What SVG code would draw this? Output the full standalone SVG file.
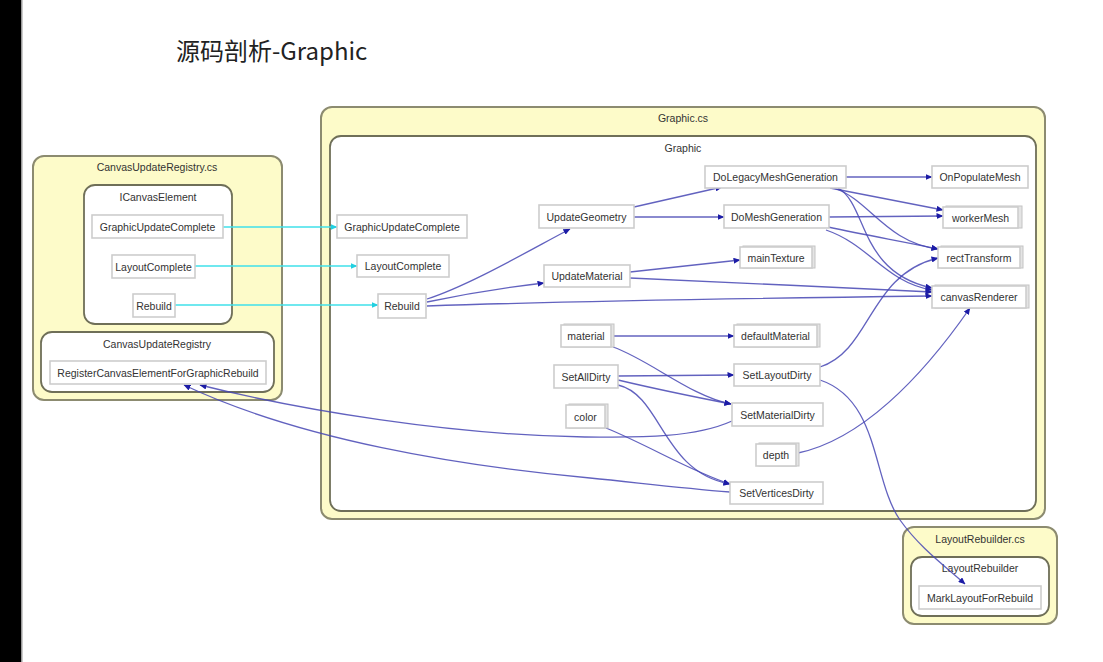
<svg xmlns="http://www.w3.org/2000/svg" width="1103" height="662" viewBox="0 0 1103 662">
<style>
.t{font-family:"Liberation Sans",Arial,sans-serif;font-size:10.5px;fill:#333;text-anchor:middle;dominant-baseline:central}
.cl{font-family:"Liberation Sans",Arial,sans-serif;font-size:10.5px;fill:#333;text-anchor:middle;dominant-baseline:central}
.file{fill:#fdfbc9;stroke:#8c8b70;stroke-width:2}
.cls{fill:#fff;stroke:#6f6f58;stroke-width:1.8}
.n{fill:#fff;stroke:#cdcdcd;stroke-width:1.6}
.sh{fill:#e4e4e4;stroke:#c4c4c4;stroke-width:1}
.e{fill:none;stroke:#4646b4;stroke-width:1.3;stroke-opacity:0.85}
.c{fill:none;stroke:#3fe0ea;stroke-width:1.6}
</style>
<defs>
<marker id="ab" markerWidth="7" markerHeight="6" refX="6.5" refY="3" orient="auto" markerUnits="userSpaceOnUse"><path d="M0,0 L7,3 L0,6 z" fill="#1c1ca6"/></marker>
<marker id="ac" markerWidth="7" markerHeight="6" refX="6.5" refY="3" orient="auto" markerUnits="userSpaceOnUse"><path d="M0,0 L7,3 L0,6 z" fill="#22d0e0"/></marker>
</defs>
<rect x="0" y="0" width="1103" height="662" fill="#fff"/>
<rect x="0" y="0" width="21" height="662" fill="#000"/>
<rect x="21" y="0" width="1.5" height="662" fill="#9a9a9a"/>
<text x="176" y="60" style="font-family:'Noto Sans CJK SC','Noto Sans',sans-serif;font-size:24px;fill:#222">源码剖析-Graphic</text>

<g id="cluster-canvasupdateregistry-cs">
<rect class="file" x="33" y="156" width="249" height="244" rx="11"/>
<text class="cl" x="157" y="167">CanvasUpdateRegistry.cs</text>
</g>
<g id="cluster-icanvaselement">
<rect class="cls" x="84" y="185" width="148" height="139" rx="11"/>
<text class="cl" x="158" y="197">ICanvasElement</text>
</g>
<g id="cluster-canvasupdateregistry">
<rect class="cls" x="41" y="332" width="233" height="60" rx="11"/>
<text class="cl" x="157" y="344">CanvasUpdateRegistry</text>
</g>
<g id="cluster-graphic-cs">
<rect class="file" x="321" y="107" width="724" height="412" rx="11"/>
<text class="cl" x="683" y="118">Graphic.cs</text>
</g>
<g id="cluster-graphic">
<rect class="cls" x="330" y="136" width="706" height="375" rx="11"/>
<text class="cl" x="683" y="148">Graphic</text>
</g>
<g id="cluster-layoutrebuilder-cs">
<rect class="file" x="903" y="527" width="154" height="97" rx="11"/>
<text class="cl" x="980" y="539">LayoutRebuilder.cs</text>
</g>
<g id="cluster-layoutrebuilder">
<rect class="cls" x="911" y="557" width="138" height="59" rx="11"/>
<text class="cl" x="980" y="568">LayoutRebuilder</text>
</g>

<g id="connectors">
<path class="c" d="M223,227 L337,227" marker-end="url(#ac)"/>
<path class="c" d="M195,266 L357,266" marker-end="url(#ac)"/>
<path class="c" d="M175,305 L378,305" marker-end="url(#ac)"/>
<path class="e" d="M427,299 C470,285 530,250 570,229" marker-end="url(#ab)"/>
<path class="e" d="M427,302 C470,293 510,287 544,283" marker-end="url(#ab)"/>
<path class="e" d="M427,306 C540,302 700,299 932,296" marker-end="url(#ab)"/>
<path class="e" d="M634,207 L722,187" marker-end="url(#ab)"/>
<path class="e" d="M634,217 L724,217" marker-end="url(#ab)"/>
<path class="e" d="M630,272 L740,260" marker-end="url(#ab)"/>
<path class="e" d="M630,278 C700,281 850,288 932,292" marker-end="url(#ab)"/>
<path class="e" d="M845,177 L932,177" marker-end="url(#ab)"/>
<path class="e" d="M830,188 L943,210" marker-end="url(#ab)"/>
<path class="e" d="M834,188 C870,200 885,242 938,249" marker-end="url(#ab)"/>
<path class="e" d="M838,188 C868,205 858,272 932,288" marker-end="url(#ab)"/>
<path class="e" d="M829,217 L943,216" marker-end="url(#ab)"/>
<path class="e" d="M828,227 C870,236 900,241 938,249" marker-end="url(#ab)"/>
<path class="e" d="M826,230 C870,245 885,282 932,290" marker-end="url(#ab)"/>
<path class="e" d="M612,336 L734,336" marker-end="url(#ab)"/>
<path class="e" d="M613,347 C650,360 690,396 731,404" marker-end="url(#ab)"/>
<path class="e" d="M618,376 L734,375" marker-end="url(#ab)"/>
<path class="e" d="M618,380 C660,390 700,398 731,404" marker-end="url(#ab)"/>
<path class="e" d="M618,385 C662,395 662,472 730,484" marker-end="url(#ab)"/>
<path class="e" d="M606,428 C650,446 690,471 730,484" marker-end="url(#ab)"/>
<path class="e" d="M820,367 C872,350 868,275 938,258" marker-end="url(#ab)"/>
<path class="e" d="M820,380 C880,400 872,480 900,520 C920,548 945,566 965,584" marker-end="url(#ab)"/>
<path class="e" d="M798,453 C860,440 920,380 970,308" marker-end="url(#ab)"/>
<path class="e" d="M732,421 C690,440 625,437 585,437 C450,435 300,410 200,385" marker-end="url(#ab)"/>
<path class="e" d="M730,492 C680,488 640,483 590,478 C460,466 300,440 184,385" marker-end="url(#ab)"/>
</g>

<g id="n-ice-graphicupdatecomplete"><rect class="n" x="92" y="215" width="131" height="23"/><text class="t" x="157.5" y="227">GraphicUpdateComplete</text></g>
<g id="n-ice-layoutcomplete"><rect class="n" x="112" y="255" width="83" height="23"/><text class="t" x="153.5" y="267">LayoutComplete</text></g>
<g id="n-ice-rebuild"><rect class="n" x="133" y="294" width="42" height="23"/><text class="t" x="154" y="306">Rebuild</text></g>
<g id="n-register"><rect class="n" x="50" y="361" width="216" height="23"/><text class="t" x="158" y="373">RegisterCanvasElementForGraphicRebuild</text></g>

<g id="n-graphicupdatecomplete"><rect class="n" x="337" y="215" width="130" height="23"/><text class="t" x="402" y="227">GraphicUpdateComplete</text></g>
<g id="n-layoutcomplete"><rect class="n" x="357" y="255" width="92" height="22"/><text class="t" x="403" y="266">LayoutComplete</text></g>
<g id="n-rebuild"><rect class="n" x="378" y="294" width="48" height="24"/><text class="t" x="402" y="306">Rebuild</text></g>
<g id="n-updategeometry"><rect class="n" x="539" y="205" width="95" height="23"/><text class="t" x="586.5" y="217">UpdateGeometry</text></g>
<g id="n-updatematerial"><rect class="n" x="544" y="265" width="86" height="22"/><text class="t" x="587" y="276">UpdateMaterial</text></g>
<g id="n-dolegacymeshgeneration"><rect class="n" x="705" y="166" width="141" height="22"/><text class="t" x="775.5" y="177">DoLegacyMeshGeneration</text></g>
<g id="n-onpopulatemesh"><rect class="n" x="932" y="166" width="96" height="22"/><text class="t" x="980" y="177">OnPopulateMesh</text></g>
<g id="n-domeshgeneration"><rect class="n" x="724" y="205" width="105" height="23"/><text class="t" x="776.5" y="217">DoMeshGeneration</text></g>
<g id="n-workermesh"><rect class="sh" x="946" y="206" width="76" height="22"/><rect class="n" x="943" y="207" width="75" height="21"/><text class="t" x="980.5" y="217.5">workerMesh</text></g>
<g id="n-maintexture"><rect class="sh" x="743" y="246" width="72" height="22"/><rect class="n" x="740" y="247" width="72" height="21"/><text class="t" x="776" y="257.5">mainTexture</text></g>
<g id="n-recttransform"><rect class="sh" x="941" y="246" width="82" height="22"/><rect class="n" x="938" y="247" width="82" height="21"/><text class="t" x="979" y="257.5">rectTransform</text></g>
<g id="n-canvasrenderer"><rect class="sh" x="935" y="285" width="94" height="23"/><rect class="n" x="932" y="286" width="94" height="22"/><text class="t" x="979" y="297">canvasRenderer</text></g>
<g id="n-material"><rect class="sh" x="564" y="324" width="50" height="23"/><rect class="n" x="561" y="325" width="50" height="22"/><text class="t" x="586" y="336">material</text></g>
<g id="n-defaultmaterial"><rect class="sh" x="737" y="324" width="83" height="23"/><rect class="n" x="734" y="325" width="83" height="22"/><text class="t" x="775.5" y="336">defaultMaterial</text></g>
<g id="n-setalldirty"><rect class="n" x="554" y="365" width="64" height="23"/><text class="t" x="586" y="377">SetAllDirty</text></g>
<g id="n-setlayoutdirty"><rect class="n" x="734" y="364" width="86" height="22"/><text class="t" x="777" y="375">SetLayoutDirty</text></g>
<g id="n-color"><rect class="sh" x="569" y="404" width="39" height="24"/><rect class="n" x="566" y="405" width="39" height="23"/><text class="t" x="585.5" y="416.5">color</text></g>
<g id="n-setmaterialdirty"><rect class="n" x="732" y="403" width="91" height="23"/><text class="t" x="777.5" y="415">SetMaterialDirty</text></g>
<g id="n-depth"><rect class="sh" x="759" y="443" width="40" height="23"/><rect class="n" x="756" y="444" width="40" height="22"/><text class="t" x="776" y="455">depth</text></g>
<g id="n-setverticesdirty"><rect class="n" x="730" y="482" width="93" height="22"/><text class="t" x="776.5" y="493">SetVerticesDirty</text></g>

<g id="n-marklayoutforrebuild"><rect class="n" x="919" y="586" width="122" height="23"/><text class="t" x="980" y="598">MarkLayoutForRebuild</text></g>
</svg>
